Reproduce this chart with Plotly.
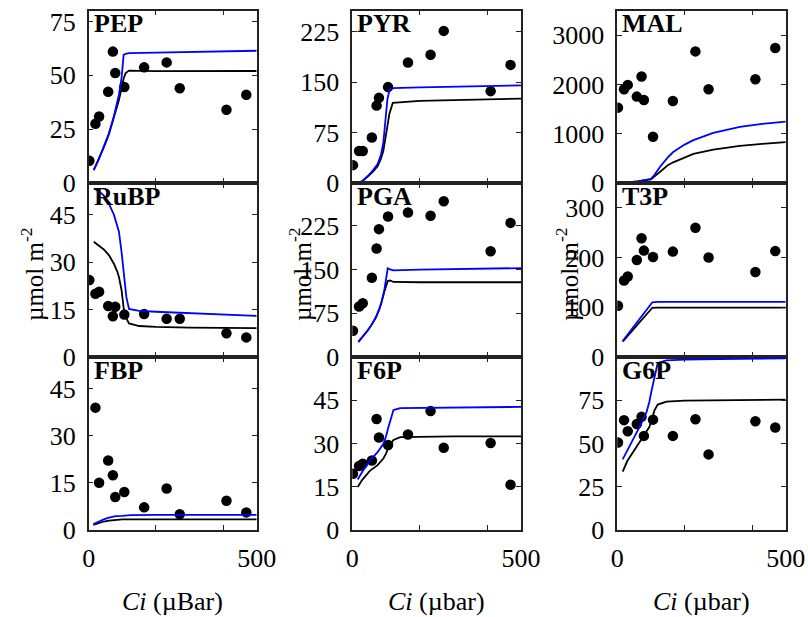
import plotly.graph_objects as go

# Page margin removed by the post-script below, so figure pixels equal screen pixels
OFF = 0
W, H = 808, 617

# Measured data (Ci in µbar)
ci = [2, 20, 31, 58, 72, 79, 106, 165, 232, 271, 410, 469]

pep = [10.3, 27.5, 30.9, 42.4, 61, 51.1, 44.6, 53.7, 56, 44, 34, 41]
pyr = [26.5, 47.5, 47.5, 67.5, 115, 126.5, 142.5, 179, 190.5, 226, 136.5, 175.5]
mal = [1531, 1905, 1993, 1755, 2163, 1687, 939, 1667, 2673, 1905, 2109, 2741]
rubp = [24.3, 20, 20.6, 16.1, 12.9, 15.9, 13.4, 13.6, 12.1, 12.1, 7.5, 6.2]
pga = [45, 86.5, 92, 135.6, 185.8, 219, 240.6, 247.5, 241.8, 266.6, 181, 229.7]
t3p = [103, 154, 162, 195, 239, 214, 201, 212, 260, 200, 171, 213]
fbp = [None, 38.9, 15.0, 22.1, 17.4, 10.5, 12.1, 7.2, 13.2, 5.0, 9.3, 5.6]
f6p = [19.5, 22.2, 23.0, 24.1, 38.5, 32.1, 29.5, 33.1, 41.3, 28.5, 30.2, 15.7]
g6p = [50.6, 63.5, 57.1, 61.3, 65.4, 54.4, 63.8, 54.4, 64.0, 43.7, 62.9, 59.2]

# Model curves: x, blue model, black model
pep_mx = [15, 30, 45, 60, 75, 90, 98, 104, 110, 120, 200, 300, 400, 500]
pep_blue = [6, 11, 17, 23, 31, 41, 49, 59.5, 60, 60.3, 60.5, 60.8, 61.1, 61.4]
pep_black = [6, 11, 16.5, 22.5, 30, 38.5, 44, 48.5, 51, 52.2, 51.9, 51.9, 52, 52]

pyr_mx = [15, 30, 45, 60, 75, 85, 92, 98, 104, 110, 120, 200, 300, 400, 500]
pyr_blue = [0, 3, 10, 18, 28, 42, 60, 95, 124, 138, 141, 142, 143, 144, 145]
pyr_black = [0, 3, 9, 16, 25, 36, 48, 64, 84, 103, 119, 122, 123, 124.5, 125.5]

mal_mx = [15, 40, 60, 80, 100, 110, 127, 150, 166, 200, 226, 285, 364, 430, 500]
mal_blue = [0, 15, 35, 60, 85, 160, 330, 520, 630, 780, 870, 1020, 1140, 1200, 1245]
mal_black = [0, 15, 33, 55, 75, 130, 230, 360, 420, 520, 590, 680, 755, 795, 830]

rubp_mx = [15, 30, 45, 60, 75, 85, 90, 98, 104, 112, 120, 150, 200, 300, 400, 500]
rubp_blue = [53.2, 52.5, 51, 48.5, 45, 41.5, 39.6, 33, 26, 19, 15.2, 14.6, 14.3, 13.9, 13.4, 13]
rubp_black = [36.4, 35.3, 34, 32.2, 29.5, 27, 25.3, 21, 15.5, 12.2, 10.6, 9.8, 9.5, 9.3, 9.2, 9.1]

pga_mx = [18, 30, 45, 57, 70, 80, 87, 95, 105, 112, 122, 200, 300, 400, 500]
pga_blue = [26, 34, 45, 55, 68, 82, 95, 115, 152, 150, 148.5, 149.5, 150.5, 151.5, 152.3]
pga_black = [26, 34, 45, 55, 68, 82, 94, 112, 130, 131, 128.5, 128, 128, 128, 128]

t3p_mx = [16, 60, 104, 120, 200, 300, 400, 500]
t3p_blue = [32, 71, 110, 111, 111, 111, 111, 111]
t3p_black = [31, 66, 99, 99.5, 99.5, 99.5, 99.5, 99.5]

fbp_mx = [14, 30, 45, 60, 80, 100, 125, 200, 300, 400, 500]
fbp_blue = [1.9, 2.7, 3.4, 3.9, 4.4, 4.5, 4.7, 4.8, 4.8, 4.8, 4.8]
fbp_black = [1.6, 2.2, 2.7, 3.0, 3.3, 3.4, 3.4, 3.4, 3.4, 3.4, 3.4]

f6p_mx = [16, 30, 52, 75, 92, 100, 107, 115, 122, 142, 200, 300, 400, 500]
f6p_blue = [17.5, 20.3, 24.1, 27, 29.9, 32.5, 35.6, 39, 41.6, 42.3, 42.4, 42.5, 42.6, 42.7]
f6p_black = [14.9, 17.5, 20.5, 22.5, 24.8, 26.5, 28.7, 30.3, 31.2, 32.2, 32.4, 32.5, 32.5, 32.5]

g6p_mx = [16, 30, 52, 70, 87, 95, 102, 110, 120, 146, 200, 300, 400, 500]
g6p_blue = [40.8, 46, 53.8, 61, 68.3, 74, 80.8, 88, 96.5, 98, 98.5, 98.8, 99, 99.2]
g6p_black = [33.7, 40, 46.5, 52, 57.5, 59.5, 63.5, 69, 72.5, 74.2, 74.8, 75.1, 75.3, 75.4]

panels = [
    ("PEP", pep, pep_mx, pep_blue, pep_black, [0, 80], [0, 25, 50, 75]),
    ("PYR", pyr, pyr_mx, pyr_blue, pyr_black, [0, 256], [0, 75, 150, 225]),
    ("MAL", mal, mal_mx, mal_blue, mal_black, [0, 3500], [0, 1000, 2000, 3000]),
    ("RuBP", rubp, rubp_mx, rubp_blue, rubp_black, [0, 55], [0, 15, 30, 45]),
    ("PGA", pga, pga_mx, pga_blue, pga_black, [0, 298], [0, 75, 150, 225]),
    ("T3P", t3p, t3p_mx, t3p_blue, t3p_black, [0, 350], [0, 100, 200, 300]),
    ("FBP", fbp, fbp_mx, fbp_blue, fbp_black, [0, 55], [0, 15, 30, 45]),
    ("F6P", f6p, f6p_mx, f6p_blue, f6p_black, [0, 60], [0, 15, 30, 45]),
    ("G6P", g6p, g6p_mx, g6p_blue, g6p_black, [0, 100], [0, 25, 50, 75]),
]

# panel edges in screen pixels
col_px = [(88.7, 256.7), (352.3, 521.0), (617.3, 785.7)]
row_px = [(10.7, 183.0), (183.0, 357.0), (357.0, 530.0)]

def px(x):
    return (x - OFF) / W

def py(y):
    return 1 - (y - OFF) / H

FONT = "Liberation Serif, Times New Roman, serif"
FS = 26

fig = go.Figure()
layout = dict(
    width=W, height=H, margin=dict(l=0, r=0, t=0, b=0),
    paper_bgcolor="white", plot_bgcolor="white", showlegend=False,
    font=dict(family=FONT, size=FS, color="black"),
)
annotations = []

for i, (name, vals, mx, blue, black, yr, ytv) in enumerate(panels):
    r, c = divmod(i, 3)
    k = "" if i == 0 else str(i + 1)
    x0, x1 = col_px[c]
    y0, y1 = row_px[r]
    xa = "x" + k
    ya = "y" + k
    fig.add_trace(go.Scatter(x=ci, y=vals, mode="markers", xaxis=xa, yaxis=ya,
                             marker=dict(color="black", size=10.5), cliponaxis=True))
    fig.add_trace(go.Scatter(x=mx, y=black, mode="lines", xaxis=xa, yaxis=ya,
                             line=dict(color="black", width=1.8)))
    fig.add_trace(go.Scatter(x=mx, y=blue, mode="lines", xaxis=xa, yaxis=ya,
                             line=dict(color="#0000ff", width=1.8)))
    bottom = (r == 2)
    layout["xaxis" + k] = dict(
        domain=[px(x0), px(x1)], anchor=ya, range=[0, 500],
        tickvals=[0, 500], ticktext=["0", "500"], showticklabels=bottom,
        ticks="inside", ticklen=5, tickcolor="#222", showline=True, mirror="ticks",
        minor=dict(tickvals=[200, 400], ticks="inside", ticklen=5, tickcolor="#222"),
        linecolor="#222", linewidth=1.5, showgrid=False, zeroline=False,
        tickfont=dict(family=FONT, size=FS), ticklabelstandoff=4, automargin=False,
        ticklabeloverflow="allow",
    )
    layout["yaxis" + k] = dict(
        domain=[py(y1), py(y0)], anchor=xa, range=yr, tickvals=ytv,
        ticks="inside", ticklen=5, tickcolor="#222", showline=True, mirror="ticks",
        linecolor="#222", linewidth=1.5, showgrid=False, zeroline=False,
        tickfont=dict(family=FONT, size=FS), ticklabelstandoff=6, automargin=False,
        ticklabeloverflow="allow",
    )
    annotations.append(dict(
        text="<b>%s</b>" % name, xref="paper", yref="paper",
        x=px(x0 + 3), y=py(y0 + 13), xanchor="left", yanchor="middle",
        showarrow=False, font=dict(family=FONT, size=26, color="black"),
    ))

col_centers = [172, 436, 701]
xtitles = ["<i>Ci</i> (\u00b5Bar)", "<i>Ci</i> (\u00b5bar)", "<i>Ci</i> (\u00b5bar)"]
for cx, t in zip(col_centers, xtitles):
    annotations.append(dict(text=t, xref="paper", yref="paper", x=px(cx), y=py(601),
                            xanchor="center", yanchor="middle", showarrow=False,
                            font=dict(family=FONT, size=FS, color="black")))
for yx in [32, 300, 567]:
    annotations.append(dict(text="\u00b5mol m<sup>-2</sup>", xref="paper", yref="paper",
                            x=px(yx), y=py(274), xanchor="center", yanchor="middle",
                            textangle=-90, showarrow=False,
                            font=dict(family=FONT, size=25, color="black")))

layout["annotations"] = annotations
fig.update_layout(**layout)
fig.write_html(
    "out.html",
    config={"displayModeBar": False},
    post_script="document.documentElement.style.overflow='hidden';"
                "document.body.style.overflow='hidden';"
                "document.body.style.margin='0';",
)
